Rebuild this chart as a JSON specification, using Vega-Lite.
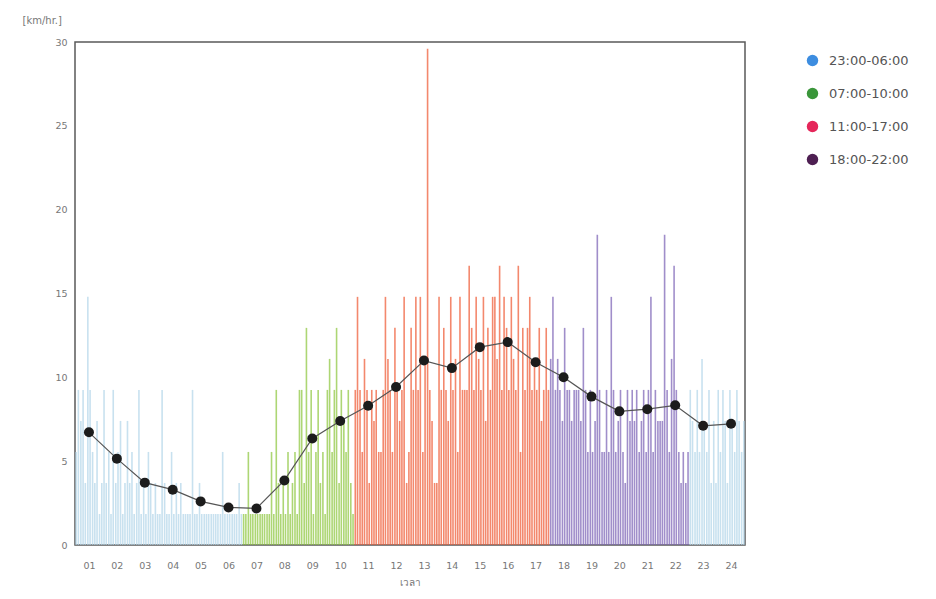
{
"$schema": "https://vega.github.io/schema/vega-lite/v6.json",
"width": 670, "height": 503,
"autosize": {"type": "none"},
"padding": {"left": 75, "top": 42, "right": 191, "bottom": 54},
"background": "white",
"config": {"view": {"stroke": "#5a5a5a", "strokeWidth": 1.5}, "font": "DejaVu Sans", "axisX": {"labelOverlap": false, "labelFlush": false}},
"datasets": {
"samples": [
{"t":0.54,"v":5.55,"p":"23:00-06:00"},{"t":0.62,"v":9.25,"p":"23:00-06:00"},{"t":0.71,"v":7.4,"p":"23:00-06:00"},{"t":0.79,"v":9.25,"p":"23:00-06:00"},{"t":0.87,"v":3.7,"p":"23:00-06:00"},{"t":0.96,"v":14.8,"p":"23:00-06:00"},{"t":1.04,"v":9.25,"p":"23:00-06:00"},{"t":1.13,"v":5.55,"p":"23:00-06:00"},{"t":1.21,"v":3.7,"p":"23:00-06:00"},{"t":1.29,"v":7.4,"p":"23:00-06:00"},{"t":1.38,"v":1.85,"p":"23:00-06:00"},{"t":1.46,"v":3.7,"p":"23:00-06:00"},
{"t":1.54,"v":9.25,"p":"23:00-06:00"},{"t":1.62,"v":3.7,"p":"23:00-06:00"},{"t":1.71,"v":5.55,"p":"23:00-06:00"},{"t":1.79,"v":1.85,"p":"23:00-06:00"},{"t":1.87,"v":9.25,"p":"23:00-06:00"},{"t":1.96,"v":3.7,"p":"23:00-06:00"},{"t":2.04,"v":5.55,"p":"23:00-06:00"},{"t":2.13,"v":7.4,"p":"23:00-06:00"},{"t":2.21,"v":1.85,"p":"23:00-06:00"},{"t":2.29,"v":3.7,"p":"23:00-06:00"},{"t":2.38,"v":7.4,"p":"23:00-06:00"},{"t":2.46,"v":3.7,"p":"23:00-06:00"},
{"t":2.54,"v":5.55,"p":"23:00-06:00"},{"t":2.62,"v":1.85,"p":"23:00-06:00"},{"t":2.71,"v":3.7,"p":"23:00-06:00"},{"t":2.79,"v":9.25,"p":"23:00-06:00"},{"t":2.87,"v":1.85,"p":"23:00-06:00"},{"t":2.96,"v":3.7,"p":"23:00-06:00"},{"t":3.04,"v":1.85,"p":"23:00-06:00"},{"t":3.13,"v":5.55,"p":"23:00-06:00"},{"t":3.21,"v":3.7,"p":"23:00-06:00"},{"t":3.29,"v":1.85,"p":"23:00-06:00"},{"t":3.38,"v":3.7,"p":"23:00-06:00"},{"t":3.46,"v":1.85,"p":"23:00-06:00"},
{"t":3.54,"v":1.85,"p":"23:00-06:00"},{"t":3.62,"v":9.25,"p":"23:00-06:00"},{"t":3.71,"v":3.7,"p":"23:00-06:00"},{"t":3.79,"v":1.85,"p":"23:00-06:00"},{"t":3.87,"v":1.85,"p":"23:00-06:00"},{"t":3.96,"v":5.55,"p":"23:00-06:00"},{"t":4.04,"v":1.85,"p":"23:00-06:00"},{"t":4.13,"v":3.7,"p":"23:00-06:00"},{"t":4.21,"v":1.85,"p":"23:00-06:00"},{"t":4.29,"v":3.7,"p":"23:00-06:00"},{"t":4.38,"v":1.85,"p":"23:00-06:00"},{"t":4.46,"v":1.85,"p":"23:00-06:00"},
{"t":4.54,"v":1.85,"p":"23:00-06:00"},{"t":4.62,"v":1.85,"p":"23:00-06:00"},{"t":4.71,"v":9.25,"p":"23:00-06:00"},{"t":4.79,"v":1.85,"p":"23:00-06:00"},{"t":4.87,"v":1.85,"p":"23:00-06:00"},{"t":4.96,"v":3.7,"p":"23:00-06:00"},{"t":5.04,"v":1.85,"p":"23:00-06:00"},{"t":5.13,"v":1.85,"p":"23:00-06:00"},{"t":5.21,"v":1.85,"p":"23:00-06:00"},{"t":5.29,"v":1.85,"p":"23:00-06:00"},{"t":5.38,"v":1.85,"p":"23:00-06:00"},{"t":5.46,"v":1.85,"p":"23:00-06:00"},
{"t":5.54,"v":1.85,"p":"23:00-06:00"},{"t":5.62,"v":1.85,"p":"23:00-06:00"},{"t":5.71,"v":1.85,"p":"23:00-06:00"},{"t":5.79,"v":5.55,"p":"23:00-06:00"},{"t":5.87,"v":1.85,"p":"23:00-06:00"},{"t":5.96,"v":1.85,"p":"23:00-06:00"},{"t":6.04,"v":1.85,"p":"23:00-06:00"},{"t":6.13,"v":1.85,"p":"23:00-06:00"},{"t":6.21,"v":1.85,"p":"23:00-06:00"},{"t":6.29,"v":1.85,"p":"23:00-06:00"},{"t":6.38,"v":3.7,"p":"23:00-06:00"},{"t":6.46,"v":1.85,"p":"23:00-06:00"},
{"t":6.54,"v":1.85,"p":"07:00-10:00"},{"t":6.62,"v":1.85,"p":"07:00-10:00"},{"t":6.71,"v":5.55,"p":"07:00-10:00"},{"t":6.79,"v":1.85,"p":"07:00-10:00"},{"t":6.87,"v":1.85,"p":"07:00-10:00"},{"t":6.96,"v":1.85,"p":"07:00-10:00"},{"t":7.04,"v":1.85,"p":"07:00-10:00"},{"t":7.13,"v":1.85,"p":"07:00-10:00"},{"t":7.21,"v":1.85,"p":"07:00-10:00"},{"t":7.29,"v":1.85,"p":"07:00-10:00"},{"t":7.38,"v":1.85,"p":"07:00-10:00"},{"t":7.46,"v":1.85,"p":"07:00-10:00"},
{"t":7.54,"v":5.55,"p":"07:00-10:00"},{"t":7.62,"v":1.85,"p":"07:00-10:00"},{"t":7.71,"v":9.25,"p":"07:00-10:00"},{"t":7.79,"v":3.7,"p":"07:00-10:00"},{"t":7.87,"v":1.85,"p":"07:00-10:00"},{"t":7.96,"v":3.7,"p":"07:00-10:00"},{"t":8.04,"v":1.85,"p":"07:00-10:00"},{"t":8.13,"v":5.55,"p":"07:00-10:00"},{"t":8.21,"v":1.85,"p":"07:00-10:00"},{"t":8.29,"v":3.7,"p":"07:00-10:00"},{"t":8.38,"v":5.55,"p":"07:00-10:00"},{"t":8.46,"v":1.85,"p":"07:00-10:00"},
{"t":8.54,"v":9.25,"p":"07:00-10:00"},{"t":8.62,"v":9.25,"p":"07:00-10:00"},{"t":8.71,"v":3.7,"p":"07:00-10:00"},{"t":8.79,"v":12.95,"p":"07:00-10:00"},{"t":8.87,"v":5.55,"p":"07:00-10:00"},{"t":8.96,"v":9.25,"p":"07:00-10:00"},{"t":9.04,"v":1.85,"p":"07:00-10:00"},{"t":9.13,"v":5.55,"p":"07:00-10:00"},{"t":9.21,"v":9.25,"p":"07:00-10:00"},{"t":9.29,"v":3.7,"p":"07:00-10:00"},{"t":9.38,"v":5.55,"p":"07:00-10:00"},{"t":9.46,"v":1.85,"p":"07:00-10:00"},
{"t":9.54,"v":9.25,"p":"07:00-10:00"},{"t":9.62,"v":11.1,"p":"07:00-10:00"},{"t":9.71,"v":5.55,"p":"07:00-10:00"},{"t":9.79,"v":9.25,"p":"07:00-10:00"},{"t":9.87,"v":12.95,"p":"07:00-10:00"},{"t":9.96,"v":3.7,"p":"07:00-10:00"},{"t":10.04,"v":9.25,"p":"07:00-10:00"},{"t":10.13,"v":7.4,"p":"07:00-10:00"},{"t":10.21,"v":5.55,"p":"07:00-10:00"},{"t":10.29,"v":9.25,"p":"07:00-10:00"},{"t":10.38,"v":3.7,"p":"07:00-10:00"},{"t":10.46,"v":1.85,"p":"07:00-10:00"},
{"t":10.54,"v":9.25,"p":"11:00-17:00"},{"t":10.62,"v":14.8,"p":"11:00-17:00"},{"t":10.71,"v":9.25,"p":"11:00-17:00"},{"t":10.79,"v":5.55,"p":"11:00-17:00"},{"t":10.87,"v":11.1,"p":"11:00-17:00"},{"t":10.96,"v":9.25,"p":"11:00-17:00"},{"t":11.04,"v":3.7,"p":"11:00-17:00"},{"t":11.13,"v":9.25,"p":"11:00-17:00"},{"t":11.21,"v":7.4,"p":"11:00-17:00"},{"t":11.29,"v":9.25,"p":"11:00-17:00"},{"t":11.38,"v":5.55,"p":"11:00-17:00"},{"t":11.46,"v":5.55,"p":"11:00-17:00"},
{"t":11.54,"v":9.25,"p":"11:00-17:00"},{"t":11.62,"v":14.8,"p":"11:00-17:00"},{"t":11.71,"v":11.1,"p":"11:00-17:00"},{"t":11.79,"v":9.25,"p":"11:00-17:00"},{"t":11.87,"v":5.55,"p":"11:00-17:00"},{"t":11.96,"v":12.95,"p":"11:00-17:00"},{"t":12.04,"v":9.25,"p":"11:00-17:00"},{"t":12.13,"v":7.4,"p":"11:00-17:00"},{"t":12.21,"v":9.25,"p":"11:00-17:00"},{"t":12.29,"v":14.8,"p":"11:00-17:00"},{"t":12.38,"v":3.7,"p":"11:00-17:00"},{"t":12.46,"v":5.55,"p":"11:00-17:00"},
{"t":12.54,"v":12.95,"p":"11:00-17:00"},{"t":12.62,"v":9.25,"p":"11:00-17:00"},{"t":12.71,"v":14.8,"p":"11:00-17:00"},{"t":12.79,"v":9.25,"p":"11:00-17:00"},{"t":12.87,"v":14.8,"p":"11:00-17:00"},{"t":12.96,"v":5.55,"p":"11:00-17:00"},{"t":13.04,"v":11.1,"p":"11:00-17:00"},{"t":13.13,"v":29.6,"p":"11:00-17:00"},{"t":13.21,"v":9.25,"p":"11:00-17:00"},{"t":13.29,"v":7.4,"p":"11:00-17:00"},{"t":13.38,"v":3.7,"p":"11:00-17:00"},{"t":13.46,"v":3.7,"p":"11:00-17:00"},
{"t":13.54,"v":14.8,"p":"11:00-17:00"},{"t":13.62,"v":9.25,"p":"11:00-17:00"},{"t":13.71,"v":12.95,"p":"11:00-17:00"},{"t":13.79,"v":9.25,"p":"11:00-17:00"},{"t":13.87,"v":7.4,"p":"11:00-17:00"},{"t":13.96,"v":14.8,"p":"11:00-17:00"},{"t":14.04,"v":9.25,"p":"11:00-17:00"},{"t":14.13,"v":11.1,"p":"11:00-17:00"},{"t":14.21,"v":5.55,"p":"11:00-17:00"},{"t":14.29,"v":14.8,"p":"11:00-17:00"},{"t":14.38,"v":9.25,"p":"11:00-17:00"},{"t":14.46,"v":9.25,"p":"11:00-17:00"},
{"t":14.54,"v":9.25,"p":"11:00-17:00"},{"t":14.62,"v":16.65,"p":"11:00-17:00"},{"t":14.71,"v":12.95,"p":"11:00-17:00"},{"t":14.79,"v":9.25,"p":"11:00-17:00"},{"t":14.87,"v":14.8,"p":"11:00-17:00"},{"t":14.96,"v":11.1,"p":"11:00-17:00"},{"t":15.04,"v":9.25,"p":"11:00-17:00"},{"t":15.13,"v":14.8,"p":"11:00-17:00"},{"t":15.21,"v":7.4,"p":"11:00-17:00"},{"t":15.29,"v":12.95,"p":"11:00-17:00"},{"t":15.38,"v":9.25,"p":"11:00-17:00"},{"t":15.46,"v":14.8,"p":"11:00-17:00"},
{"t":15.54,"v":14.8,"p":"11:00-17:00"},{"t":15.62,"v":11.1,"p":"11:00-17:00"},{"t":15.71,"v":16.65,"p":"11:00-17:00"},{"t":15.79,"v":9.25,"p":"11:00-17:00"},{"t":15.87,"v":14.8,"p":"11:00-17:00"},{"t":15.96,"v":12.95,"p":"11:00-17:00"},{"t":16.04,"v":9.25,"p":"11:00-17:00"},{"t":16.13,"v":14.8,"p":"11:00-17:00"},{"t":16.21,"v":11.1,"p":"11:00-17:00"},{"t":16.29,"v":9.25,"p":"11:00-17:00"},{"t":16.38,"v":16.65,"p":"11:00-17:00"},{"t":16.46,"v":5.55,"p":"11:00-17:00"},
{"t":16.54,"v":12.95,"p":"11:00-17:00"},{"t":16.62,"v":9.25,"p":"11:00-17:00"},{"t":16.71,"v":12.95,"p":"11:00-17:00"},{"t":16.79,"v":14.8,"p":"11:00-17:00"},{"t":16.87,"v":9.25,"p":"11:00-17:00"},{"t":16.96,"v":11.1,"p":"11:00-17:00"},{"t":17.04,"v":9.25,"p":"11:00-17:00"},{"t":17.13,"v":12.95,"p":"11:00-17:00"},{"t":17.21,"v":7.4,"p":"11:00-17:00"},{"t":17.29,"v":9.25,"p":"11:00-17:00"},{"t":17.38,"v":12.95,"p":"11:00-17:00"},{"t":17.46,"v":9.25,"p":"11:00-17:00"},
{"t":17.54,"v":11.1,"p":"18:00-22:00"},{"t":17.62,"v":14.8,"p":"18:00-22:00"},{"t":17.71,"v":9.25,"p":"18:00-22:00"},{"t":17.79,"v":11.1,"p":"18:00-22:00"},{"t":17.87,"v":9.25,"p":"18:00-22:00"},{"t":17.96,"v":7.4,"p":"18:00-22:00"},{"t":18.04,"v":12.95,"p":"18:00-22:00"},{"t":18.13,"v":9.25,"p":"18:00-22:00"},{"t":18.21,"v":9.25,"p":"18:00-22:00"},{"t":18.29,"v":7.4,"p":"18:00-22:00"},{"t":18.38,"v":9.25,"p":"18:00-22:00"},{"t":18.46,"v":9.25,"p":"18:00-22:00"},
{"t":18.54,"v":9.25,"p":"18:00-22:00"},{"t":18.62,"v":7.4,"p":"18:00-22:00"},{"t":18.71,"v":12.95,"p":"18:00-22:00"},{"t":18.79,"v":9.25,"p":"18:00-22:00"},{"t":18.87,"v":5.55,"p":"18:00-22:00"},{"t":18.96,"v":9.25,"p":"18:00-22:00"},{"t":19.04,"v":5.55,"p":"18:00-22:00"},{"t":19.13,"v":7.4,"p":"18:00-22:00"},{"t":19.21,"v":18.5,"p":"18:00-22:00"},{"t":19.29,"v":9.25,"p":"18:00-22:00"},{"t":19.38,"v":5.55,"p":"18:00-22:00"},{"t":19.46,"v":5.55,"p":"18:00-22:00"},
{"t":19.54,"v":9.25,"p":"18:00-22:00"},{"t":19.62,"v":5.55,"p":"18:00-22:00"},{"t":19.71,"v":14.8,"p":"18:00-22:00"},{"t":19.79,"v":9.25,"p":"18:00-22:00"},{"t":19.87,"v":5.55,"p":"18:00-22:00"},{"t":19.96,"v":7.4,"p":"18:00-22:00"},{"t":20.04,"v":9.25,"p":"18:00-22:00"},{"t":20.13,"v":5.55,"p":"18:00-22:00"},{"t":20.21,"v":3.7,"p":"18:00-22:00"},{"t":20.29,"v":9.25,"p":"18:00-22:00"},{"t":20.38,"v":7.4,"p":"18:00-22:00"},{"t":20.46,"v":9.25,"p":"18:00-22:00"},
{"t":20.54,"v":7.4,"p":"18:00-22:00"},{"t":20.62,"v":9.25,"p":"18:00-22:00"},{"t":20.71,"v":5.55,"p":"18:00-22:00"},{"t":20.79,"v":7.4,"p":"18:00-22:00"},{"t":20.87,"v":9.25,"p":"18:00-22:00"},{"t":20.96,"v":5.55,"p":"18:00-22:00"},{"t":21.04,"v":9.25,"p":"18:00-22:00"},{"t":21.13,"v":14.8,"p":"18:00-22:00"},{"t":21.21,"v":5.55,"p":"18:00-22:00"},{"t":21.29,"v":9.25,"p":"18:00-22:00"},{"t":21.38,"v":7.4,"p":"18:00-22:00"},{"t":21.46,"v":7.4,"p":"18:00-22:00"},
{"t":21.54,"v":7.4,"p":"18:00-22:00"},{"t":21.62,"v":18.5,"p":"18:00-22:00"},{"t":21.71,"v":9.25,"p":"18:00-22:00"},{"t":21.79,"v":5.55,"p":"18:00-22:00"},{"t":21.87,"v":11.1,"p":"18:00-22:00"},{"t":21.96,"v":16.65,"p":"18:00-22:00"},{"t":22.04,"v":9.25,"p":"18:00-22:00"},{"t":22.13,"v":5.55,"p":"18:00-22:00"},{"t":22.21,"v":3.7,"p":"18:00-22:00"},{"t":22.29,"v":5.55,"p":"18:00-22:00"},{"t":22.38,"v":3.7,"p":"18:00-22:00"},{"t":22.46,"v":5.55,"p":"18:00-22:00"},
{"t":22.54,"v":9.25,"p":"23:00-06:00"},{"t":22.62,"v":7.4,"p":"23:00-06:00"},{"t":22.71,"v":5.55,"p":"23:00-06:00"},{"t":22.79,"v":9.25,"p":"23:00-06:00"},{"t":22.87,"v":5.55,"p":"23:00-06:00"},{"t":22.96,"v":11.1,"p":"23:00-06:00"},{"t":23.04,"v":7.4,"p":"23:00-06:00"},{"t":23.13,"v":5.55,"p":"23:00-06:00"},{"t":23.21,"v":9.25,"p":"23:00-06:00"},{"t":23.29,"v":3.7,"p":"23:00-06:00"},{"t":23.38,"v":7.4,"p":"23:00-06:00"},{"t":23.46,"v":3.7,"p":"23:00-06:00"},
{"t":23.54,"v":9.25,"p":"23:00-06:00"},{"t":23.62,"v":5.55,"p":"23:00-06:00"},{"t":23.71,"v":9.25,"p":"23:00-06:00"},{"t":23.79,"v":7.4,"p":"23:00-06:00"},{"t":23.87,"v":3.7,"p":"23:00-06:00"},{"t":23.96,"v":9.25,"p":"23:00-06:00"},{"t":24.04,"v":7.4,"p":"23:00-06:00"},{"t":24.13,"v":5.55,"p":"23:00-06:00"},{"t":24.21,"v":9.25,"p":"23:00-06:00"},{"t":24.29,"v":7.4,"p":"23:00-06:00"},{"t":24.38,"v":5.55,"p":"23:00-06:00"},{"t":24.46,"v":7.4,"p":"23:00-06:00"}
],
"means": [
{"t":1,"v":6.72},{"t":2,"v":5.15},{"t":3,"v":3.72},{"t":4,"v":3.3},{"t":5,"v":2.6},{"t":6,"v":2.24},{"t":7,"v":2.18},{"t":8,"v":3.85},{"t":9,"v":6.35},{"t":10,"v":7.4},{"t":11,"v":8.3},{"t":12,"v":9.42},{"t":13,"v":11.0},{"t":14,"v":10.55},{"t":15,"v":11.8},{"t":16,"v":12.1},{"t":17,"v":10.9},{"t":18,"v":10.0},{"t":19,"v":8.85},{"t":20,"v":7.97},{"t":21,"v":8.1},{"t":22,"v":8.33},{"t":23,"v":7.11},{"t":24,"v":7.23}
],
"periods": [{"p":"23:00-06:00"},{"p":"07:00-10:00"},{"p":"11:00-17:00"},{"p":"18:00-22:00"}]
},
"encoding": {
"x": {"field": "t", "type": "quantitative",
"scale": {"domain": [0.5, 24.5], "nice": false, "zero": false},
"axis": {"values": [1,2,3,4,5,6,7,8,9,10,11,12,13,14,15,16,17,18,19,20,21,22,23,24],
"labelExpr": "datum.value < 10 ? '0' + datum.value : '' + datum.value",
"labelOverlap": false, "labelFlush": false,
"domain": false, "ticks": false, "grid": false, "labelPadding": 15, "labelFontSize": 9.5, "labelColor": "#777",
"title": "เวลา", "titleFontSize": 10, "titleColor": "#777", "titleFontWeight": "normal", "titlePadding": 8}},
"y": {"field": "v", "type": "quantitative",
"scale": {"domain": [0, 30], "nice": false},
"axis": {"values": [0,5,10,15,20,25,30], "domain": false, "ticks": false, "grid": false, "labelPadding": 8,
"labelFontSize": 9.5, "labelColor": "#777",
"title": "[km/hr.]", "titleAngle": 0, "titleAlign": "left", "titleBaseline": "middle", "titleX": -53, "titleY": -22,
"titleFontSize": 10, "titleFontWeight": "normal", "titleColor": "#777"}}
},
"layer": [
{
"data": {"name": "samples"},
"mark": {"type": "rule", "strokeWidth": 1.6, "opacity": 0.72},
"encoding": {
"y2": {"datum": 0},
"color": {"field": "p", "type": "nominal",
"scale": {"domain": ["23:00-06:00","07:00-10:00","11:00-17:00","18:00-22:00"], "range": ["#b3d6e9","#8dc63f","#ef5a34","#7b63b5"]},
"legend": null}
}
},
{
"data": {"name": "means"},
"mark": {"type": "line", "color": "#555555", "strokeWidth": 1.2},
"encoding": {}
},
{
"data": {"name": "means"},
"mark": {"type": "circle", "color": "#1c1c1c", "size": 100, "opacity": 1},
"encoding": {}
},
{
"data": {"name": "periods"},
"mark": {"type": "circle", "opacity": 0},
"encoding": {
"color": {"field": "p", "type": "nominal",
"scale": {"domain": ["23:00-06:00","07:00-10:00","11:00-17:00","18:00-22:00"], "range": ["#3d8de0","#3a963a","#e5265a","#4e1f52"]},
"legend": {"title": null, "orient": "none", "legendX": 731, "legendY": 12, "symbolType": "circle", "symbolSize": 130,
"symbolOpacity": 1, "symbolStrokeWidth": 0, "labelFontSize": 13, "labelColor": "#555", "rowPadding": 19, "labelOffset": 10}}
}
}
],
"resolve": {"scale": {"color": "independent"}}
}
